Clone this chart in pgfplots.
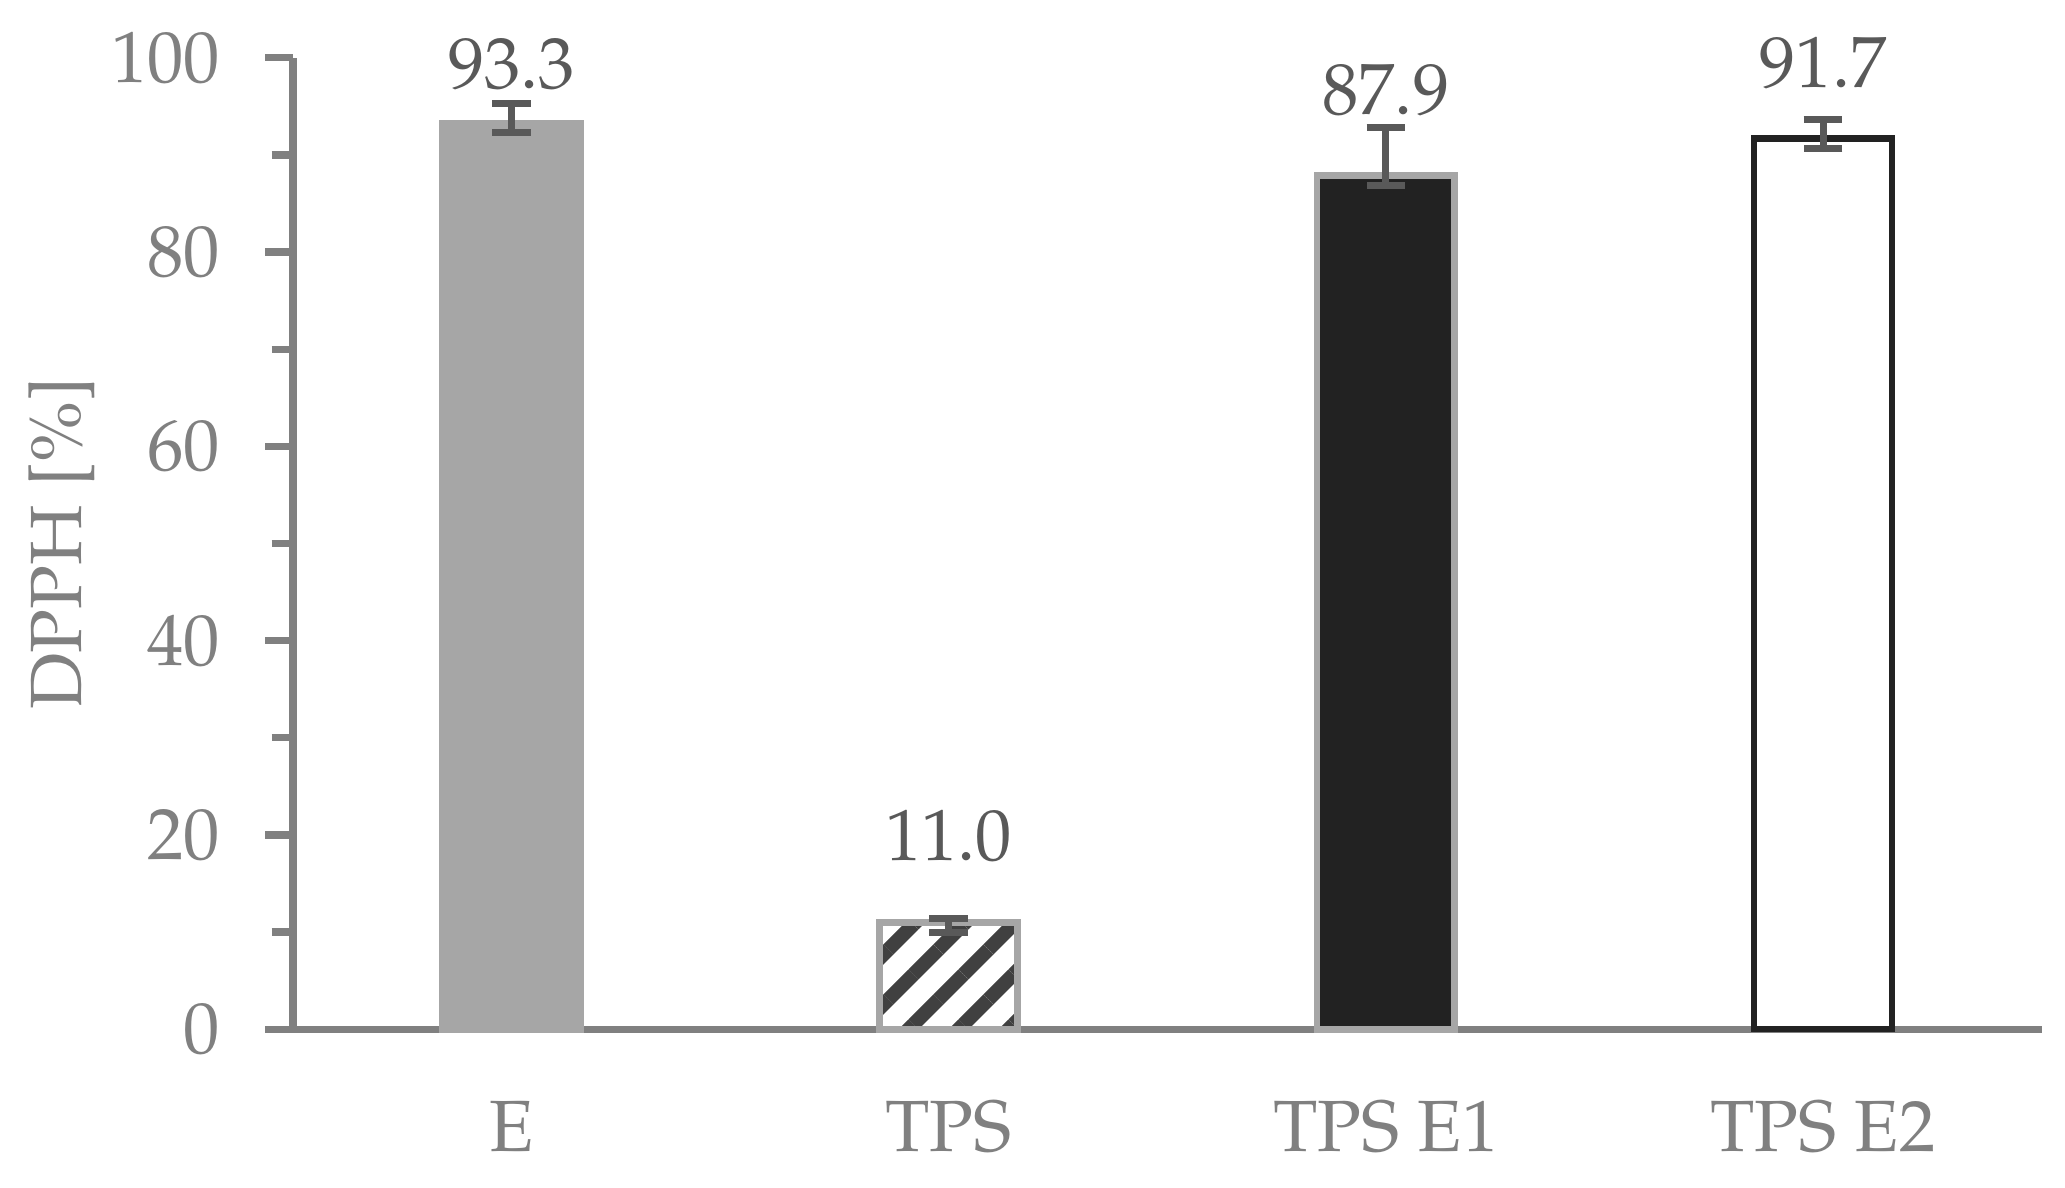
\documentclass[border=0pt]{standalone}
\usepackage[T1]{fontenc}
\usepackage{mathpazo}
\usepackage{pgfplots}
\pgfplotsset{compat=1.18}
\usetikzlibrary{patterns.meta}

\definecolor{cAxis}{HTML}{808080}
\definecolor{cLbl}{HTML}{595959}
\definecolor{cE}{HTML}{A6A6A6}
\definecolor{cStripe}{HTML}{404040}
\definecolor{cDark}{HTML}{222222}

\newcommand{\fs}{\fontsize{15}{18}\selectfont}

\begin{document}
\begin{tikzpicture}
\begin{axis}[
    scale only axis,
    width=12.70cm, height=7.055cm,
    ybar, bar width=1.0cm,
    xmin=-0.5, xmax=3.5, ymin=0, ymax=100,
    enlargelimits=false, clip=false,
    axis x line*=bottom, axis y line*=left,
    axis line style={-, line width=1.5pt, color=cAxis},
    xtick={0,1,2,3},
    xticklabels={E,TPS,TPS E1,TPS E2},
    xtick style={draw=none},
    ytick={0,20,...,100},
    minor y tick num=1,
    tick align=outside,
    major tick length=0.2cm, minor tick length=0.155cm,
    ytick style={line width=1.5pt, color=cAxis},
    tick label style={font=\fs, color=cAxis},
    xticklabel style={yshift=-0.20cm},
    yticklabel style={xshift=-0.205cm},
    ylabel={DPPH [\%]},
    ylabel style={font=\fs, color=cAxis, at={(axis description cs:-0.132,0.5)}, anchor=center},
    error bars/y dir=both, error bars/y explicit,
    error bars/error mark=-,
    error bars/error bar style={line width=1.45pt, color=cLbl},
    error bars/error mark options={rotate=90, line width=1.45pt, color=cLbl, mark size=0.14cm},
    nodes near coords={\pgfmathprintnumber[fixed,fixed zerofill,precision=1]{\pgfplotspointmeta}},
    every node near coord/.append style={font=\fs, color=cLbl, anchor=south},
]
% E
\addplot[bar shift=0pt, fill=cE, draw=cE, line width=1.4pt,
    every node near coord/.append style={yshift=0.10cm}]
    coordinates {(0,93.3) += (0,2.0) -= (0,1.0)};
% TPS
\addplot[bar shift=0pt, draw=cE, line width=1.4pt,
    pattern={Lines[angle=45,distance=0.257cm,line width=0.103cm]}, pattern color=cStripe,
    every node near coord/.append style={yshift=0.30cm}]
    coordinates {(1,11.0) += (0,0.4) -= (0,1.0)};
% TPS E1
\addplot[bar shift=0pt, fill=cDark, draw=cE, line width=1.4pt,
    every node near coord/.append style={yshift=0.29cm}]
    coordinates {(2,87.9) += (0,4.9) -= (0,1.0)};
% TPS E2
\addplot[bar shift=0pt, fill=white, draw=cDark, line width=1.3pt,
    every node near coord/.append style={yshift=0.22cm}]
    coordinates {(3,91.7) += (0,1.9) -= (0,1.0)};
\end{axis}
\pgfresetboundingbox
\path[use as bounding box] (-2.128cm,-1.148cm) rectangle (12.87cm,7.475cm);
\end{tikzpicture}
\end{document}
